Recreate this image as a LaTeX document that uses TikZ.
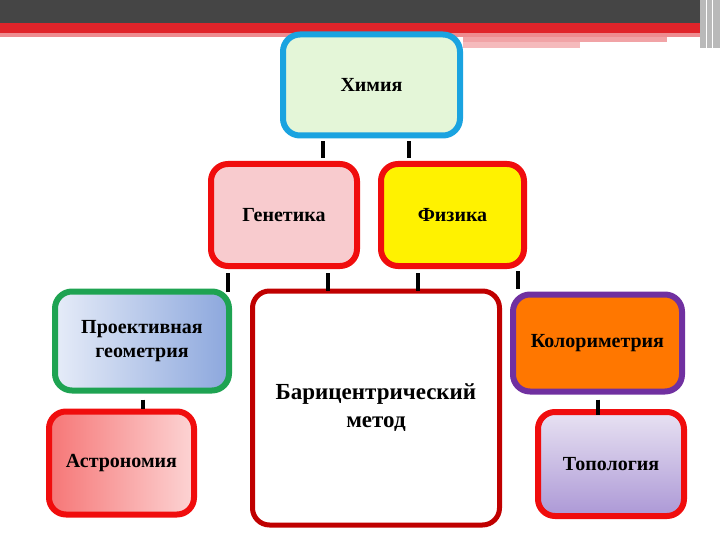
\documentclass[tikz,border=0pt]{standalone}
\usepackage{fontspec}
\setmainfont{Liberation Serif}
\usepackage{tikz}
\usetikzlibrary{positioning}
\definecolor{BarDark}{HTML}{454545}
\definecolor{BarRed}{HTML}{E0242A}
\definecolor{BarPink}{HTML}{EE8C90}
\definecolor{CyanEdge}{HTML}{1AA3E0}
\definecolor{MintFill}{HTML}{CFF0B2}
\definecolor{MintLight}{HTML}{E4F6D8}
\definecolor{RedEdge}{HTML}{F00D0D}
\definecolor{PinkFill}{HTML}{F8CBCE}
\definecolor{GreenEdge}{HTML}{1EA352}
\definecolor{BlueLight}{HTML}{E6ECF8}
\definecolor{BlueDark}{HTML}{8CA7DD}
\definecolor{DarkRedEdge}{HTML}{C00000}
\definecolor{PurpleEdge}{HTML}{7030A0}
\definecolor{OrangeFill}{HTML}{FF7700}
\definecolor{SalmonDark}{HTML}{F67676}
\definecolor{SalmonLight}{HTML}{FCD4D4}
\definecolor{LilacLight}{HTML}{E8E2F2}
\definecolor{LilacDark}{HTML}{AC98D6}
\tikzset{%
  block/.style={draw,line width=6pt,rounded corners=17pt,align=center,
    inner sep=0pt,font=\bfseries\fontsize{20}{24}\selectfont},
  bigblock/.style={block,line width=5pt,font=\bfseries\fontsize{23}{28}\selectfont},
  link/.style={line width=4pt,black,shorten <=3pt,shorten >=3pt}
}

\begin{document}
\begin{tikzpicture}[x=1pt,y=-1pt]
  \useasboundingbox (0,0) rectangle (720,540);
  % top strip
  \fill[BarDark] (0,0) rectangle (700,23);
  \fill[BarRed] (0,23) rectangle (700,33);
  \fill[BarPink] (0,33) rectangle (700,37);
  \fill[BarPink!80] (463,37) rectangle (667,42);
  \fill[BarPink!60] (463,42) rectangle (580,48);
  \fill[gray!55] (700,0) rectangle (720,48);
  \draw[white,line width=1pt] (706,0) -- (706,48) (712,0) -- (712,48);

  \node[block, draw=CyanEdge, left color=MintLight, middle color=MintFill, right color=MintLight,
    minimum width=177pt, minimum height=101pt] (chem) at (371.5,85) {Химия};
  \node[block, draw=RedEdge, fill=PinkFill,
    minimum width=146pt, minimum height=102pt] (gen) at (284,215) {Генетика};
  \node[block, draw=RedEdge, fill=yellow,
    minimum width=143pt, minimum height=102pt, right=18pt of gen] (phys) {Физика};
  \node[block, draw=GreenEdge, left color=BlueLight, right color=BlueDark,
    minimum width=174pt, minimum height=99pt] (proj) at (142,341) {Проективная\\геометрия};
  \node[bigblock, draw=DarkRedEdge, fill=white,
    minimum width=247pt, minimum height=234pt] (bary) at (376,408) {Барицентрический\\метод};
  \node[block, draw=PurpleEdge, fill=OrangeFill,
    minimum width=169pt, minimum height=97pt] (color) at (597.5,343) {Колориметрия};
  \node[block, draw=RedEdge, left color=SalmonDark, right color=SalmonLight,
    minimum width=145pt, minimum height=103pt] (astro) at (121.5,463) {Астрономия};
  \node[block, draw=RedEdge, top color=LilacLight, bottom color=LilacDark,
    minimum width=146pt, minimum height=104pt] (topo) at (611,464) {Топология};

  \draw[link] (chem.south -| 323,0) -- (gen.north -| 323,0);
  \draw[link] (chem.south -| 409,0) -- (phys.north -| 409,0);
  \draw[link, shorten <=4pt, shorten >=-3pt] (gen.south -| 228,0) -- (proj.north -| 228,0);
  \draw[link, shorten <=4pt, shorten >=-2pt] (gen.south -| 328,0) -- (bary.north -| 328,0);
  \draw[link, shorten <=4pt, shorten >=-2pt] (phys.south -| 418,0) -- (bary.north -| 418,0);
  \draw[link, shorten <=2pt, shorten >=3pt] (phys.south -| 518,0) -- (color.north -| 518,0);
  \draw[link, shorten <=6pt, shorten >=0pt] (proj.south -| 143,0) -- (astro.north -| 143,0);
  \draw[link, shorten <=5pt, shorten >=-6pt] (color.south -| 598,0) -- (topo.north -| 598,0);
\end{tikzpicture}
\end{document}
